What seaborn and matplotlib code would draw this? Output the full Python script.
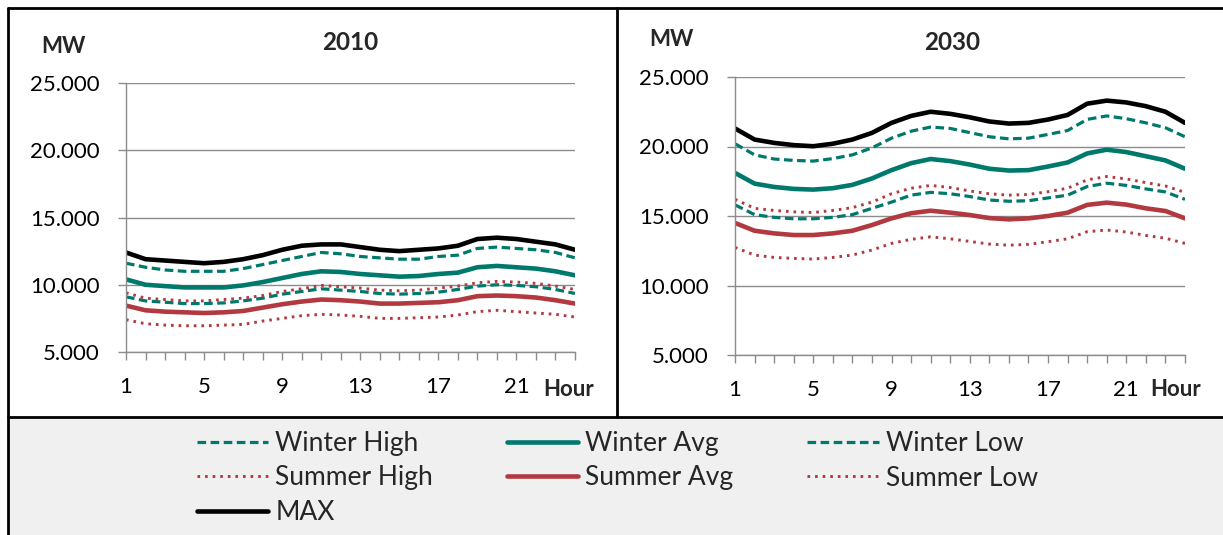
import pandas as pd
import seaborn as sns
import matplotlib.pyplot as plt
from matplotlib.lines import Line2D
from matplotlib.patches import Rectangle
from matplotlib.ticker import FixedLocator, FixedFormatter

hours = list(range(1, 25))
x_tick_labels = ['1', '5', '9', '13', '17', '21']
y_ticks = [5000, 10000, 15000, 20000, 25000]
y_tick_labels = ['5.000', '10.000', '15.000', '20.000', '25.000']
years = ['2010', '2030']

# 2010, MW
winter_high_2010 = [11600, 11300, 11100, 11000, 11000, 11000, 11200, 11500, 11800, 12100, 12400, 12300,
                    12100, 12000, 11900, 11900, 12100, 12200, 12700, 12800, 12700, 12600, 12400, 12000]
winter_avg_2010 = [10400, 10000, 9900, 9800, 9800, 9800, 9950, 10200, 10500, 10800, 11000, 10950,
                   10800, 10700, 10600, 10650, 10800, 10900, 11300, 11400, 11300, 11200, 11000, 10700]
winter_low_2010 = [9100, 8800, 8700, 8600, 8600, 8650, 8800, 9000, 9300, 9500, 9700, 9600,
                   9500, 9350, 9300, 9350, 9450, 9650, 9900, 10000, 9950, 9850, 9650, 9350]
summer_high_2010 = [9400, 9000, 8900, 8800, 8800, 8900, 9000, 9200, 9500, 9700, 9950, 9850,
                    9750, 9600, 9550, 9600, 9750, 9900, 10150, 10250, 10200, 10100, 9900, 9650]
summer_avg_2010 = [8450, 8100, 8000, 7950, 7900, 7950, 8050, 8300, 8550, 8750, 8900, 8850,
                   8750, 8600, 8600, 8650, 8700, 8850, 9150, 9200, 9150, 9050, 8850, 8600]
summer_low_2010 = [7400, 7100, 7000, 6950, 6950, 7000, 7050, 7300, 7500, 7700, 7800, 7750,
                   7650, 7500, 7500, 7550, 7600, 7750, 8000, 8100, 8000, 7900, 7800, 7600]
max_2010 = [12400, 11900, 11800, 11700, 11600, 11700, 11900, 12200, 12600, 12900, 13000, 13000,
            12800, 12600, 12500, 12600, 12700, 12900, 13400, 13500, 13400, 13200, 13000, 12600]

# 2030, MW
winter_high_2030 = [20200, 19400, 19100, 19000, 18950, 19130, 19400, 19900, 20600, 21100, 21400, 21300,
                    21000, 20700, 20550, 20600, 20870, 21150, 21950, 22200, 22000, 21700, 21350, 20700]
winter_avg_2030 = [18100, 17330, 17090, 16950, 16900, 17000, 17240, 17700, 18300, 18800, 19100, 18950,
                   18700, 18400, 18270, 18300, 18560, 18850, 19500, 19770, 19600, 19300, 19000, 18400]
winter_low_2030 = [15800, 15100, 14900, 14800, 14800, 14900, 15100, 15550, 16000, 16500, 16700, 16600,
                   16400, 16150, 16060, 16100, 16300, 16500, 17120, 17360, 17200, 16950, 16730, 16200]
summer_high_2030 = [16200, 15550, 15400, 15300, 15250, 15400, 15600, 16000, 16600, 17000, 17200, 17050,
                    16800, 16600, 16500, 16550, 16750, 17000, 17600, 17840, 17670, 17400, 17160, 16700]
summer_avg_2030 = [14500, 13940, 13750, 13630, 13630, 13750, 13940, 14350, 14830, 15200, 15380, 15240,
                   15070, 14850, 14760, 14830, 15000, 15240, 15800, 15960, 15820, 15550, 15360, 14830]
summer_low_2030 = [12740, 12190, 12020, 11950, 11900, 12020, 12190, 12550, 13030, 13320, 13500, 13360,
                   13170, 12980, 12900, 12960, 13150, 13360, 13870, 13990, 13850, 13600, 13400, 13030]
max_2030 = [21300, 20500, 20260, 20100, 20020, 20200, 20500, 20980, 21700, 22200, 22500, 22350,
            22100, 21800, 21650, 21700, 21940, 22270, 23080, 23300, 23170, 22900, 22500, 21700]

data = {
    '2010': {'Winter High': winter_high_2010, 'Winter Avg': winter_avg_2010, 'Winter Low': winter_low_2010,
             'Summer High': summer_high_2010, 'Summer Avg': summer_avg_2010, 'Summer Low': summer_low_2010,
             'MAX': max_2010},
    '2030': {'Winter High': winter_high_2030, 'Winter Avg': winter_avg_2030, 'Winter Low': winter_low_2030,
             'Summer High': summer_high_2030, 'Summer Avg': summer_avg_2030, 'Summer Low': summer_low_2030,
             'MAX': max_2030},
}

TEAL = '#00796D'
RED = '#B1393F'
GRID = '#8C8C8C'
dash = (0, (2.7, 1.4))
dot = (0, (0.9, 1.7))
styles = {
    'Winter High': dict(color=TEAL, linestyle=dash, linewidth=2.3),
    'Winter Avg': dict(color=TEAL, linestyle='-', linewidth=3.3),
    'Winter Low': dict(color=TEAL, linestyle=dash, linewidth=2.3),
    'Summer High': dict(color=RED, linestyle=dot, linewidth=2.1),
    'Summer Avg': dict(color=RED, linestyle='-', linewidth=3.3),
    'Summer Low': dict(color=RED, linestyle=dot, linewidth=2.1),
    'MAX': dict(color='black', linestyle='-', linewidth=3.3),
}

sns.set_style('white')
plt.rcParams['font.family'] = ['Lato', 'DejaVu Sans']

fig = plt.figure(figsize=(12.23, 5.35), dpi=100)
W, H = 1223, 535

def fx(px):
    return px / W

def fy(py):
    return 1 - py / H

# legend band and frame lines
fig.patches.append(Rectangle((fx(8), 0), 1 - fx(8), fy(417), transform=fig.transFigure,
                             facecolor='#F0F0F0', edgecolor='none', zorder=0))
for xs, ys in [((8, 1223), (8, 8)), ((8, 8), (8, 535)), ((8, 1223), (417, 417)),
               ((617, 617), (8, 417))]:
    fig.lines.append(Line2D([fx(v) for v in xs], [fy(v) for v in ys], transform=fig.transFigure,
                            color='black', linewidth=2.0))

boxes = {'2010': (126, 83, 575, 352), '2030': (735, 77, 1185, 355)}
mw_pos = {'2010': (63, 47), '2030': (671, 40)}
title_pos = {'2010': (350, 43), '2030': (952, 42)}
hour_pos = {'2010': (569, 390), '2030': (1176, 390)}

for year in years:
    x0, y0, x1, y1 = boxes[year]
    ax = fig.add_axes([fx(x0), fy(y1), fx(x1 - x0), (y1 - y0) / H])
    for name, values in data[year].items():
        df = pd.DataFrame({'Hour': hours, 'MW': values})
        sns.lineplot(data=df, x='Hour', y='MW', ax=ax, label=name, **styles[name])
    ax.set_xlim(1, 24)
    ax.set_ylim(5000, 25000)
    ax.xaxis.set_major_locator(FixedLocator(hours))
    ax.xaxis.set_major_formatter(FixedFormatter([str(h) if str(h) in x_tick_labels else '' for h in hours]))
    ax.yaxis.set_major_locator(FixedLocator(y_ticks))
    ax.yaxis.set_major_formatter(FixedFormatter(y_tick_labels))
    ax.tick_params(axis='both', direction='out', length=5.8, width=1, color=GRID, labelsize=16,
                   labelcolor='black', left=True, bottom=True)
    ax.tick_params(axis='x', pad=12.5)
    ax.tick_params(axis='y', pad=13)
    ax.grid(axis='y', color=GRID, linewidth=1.0)
    ax.set_axisbelow(True)
    for side in ['top', 'right']:
        ax.spines[side].set_visible(False)
    for side in ['left', 'bottom']:
        ax.spines[side].set_color(GRID)
        ax.spines[side].set_linewidth(1.0)
    ax.set_xlabel('')
    ax.set_ylabel('')
    ax.get_legend().remove()
    fig.text(fx(mw_pos[year][0]), fy(mw_pos[year][1]), 'MW', ha='center', va='center',
             fontsize=16, fontweight='bold')
    fig.text(fx(title_pos[year][0]), fy(title_pos[year][1]), year, ha='center', va='center',
             fontsize=17.5, fontweight='bold')
    fig.text(fx(hour_pos[year][0]), fy(hour_pos[year][1]), 'Hour', ha='center', va='center',
             fontsize=16, fontweight='bold')
    handles, labels = ax.get_legend_handles_labels()

order = ['Winter High', 'Summer High', 'MAX', 'Winter Avg', 'Summer Avg', 'Winter Low', 'Summer Low']
lookup = dict(zip(labels, handles))
fig.legend([lookup[n] for n in order], order, ncol=3, loc='upper left',
           bbox_to_anchor=(fx(197), fy(431)), frameon=False, fontsize=19,
           handlelength=2.7, handletextpad=0.27, columnspacing=2.8, labelspacing=0.36,
           borderpad=0, borderaxespad=0)

plt.savefig('out.png', dpi=100)
